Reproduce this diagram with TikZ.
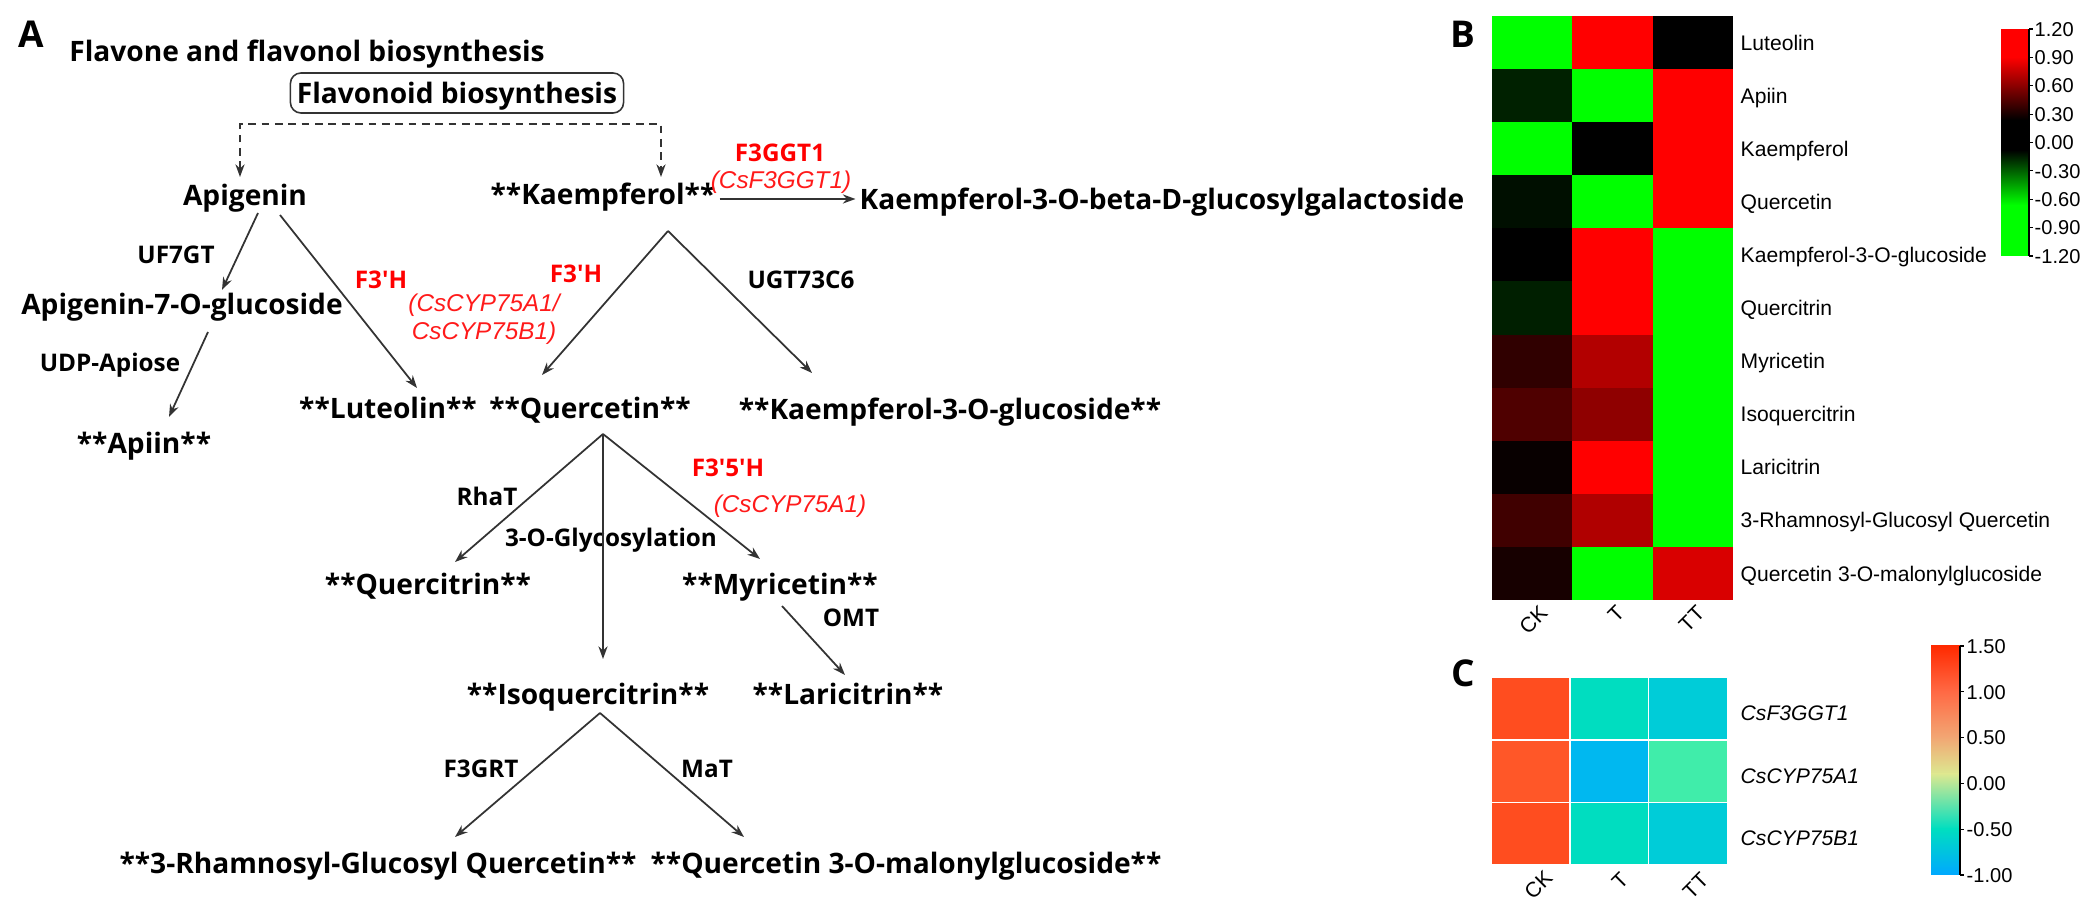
\documentclass[tikz,border=0pt]{standalone}
\usepackage{fontspec}
\setmainfont{Open Sans}
\newfontfamily\arialfont{Liberation Sans}
\usepackage{tikz}
\usetikzlibrary{arrows.meta}
\definecolor{linegray}{HTML}{333333}
\definecolor{genered}{HTML}{FF1A1A}
\definecolor{hcA}{HTML}{FF4D1F}
\definecolor{hcB}{HTML}{00DDC0}
\definecolor{hcC}{HTML}{00CCD8}
\definecolor{hcD}{HTML}{FF5728}
\definecolor{hcE}{HTML}{00B8F0}
\definecolor{hcF}{HTML}{40EDAA}
\tikzset{metab/.style = {font=\bfseries\fontsize{8}{9.6}\selectfont, inner sep=1pt, text height=5.7pt, text depth=0pt}}
\tikzset{enzyme/.style = {font=\bfseries\fontsize{6.9}{8.3}\selectfont, inner sep=1pt, text height=4.9pt, text depth=0pt}}
\tikzset{redenz/.style = {enzyme, text=red}}
\tikzset{gene/.style = {text=genered, font=\arialfont\itshape\fontsize{6.9}{8}\selectfont, align=center, inner sep=1pt}}
\tikzset{panel/.style = {font=\bfseries\fontsize{10.5}{12}\selectfont, inner sep=0pt}}
\tikzset{pathbox/.style = {metab, draw=linegray, line width=0.45pt, rounded corners=3pt, minimum width=3.33cm, minimum height=0.4cm}}
\tikzset{arrow/.style={draw=linegray, line width=0.5pt, -{Stealth[length=3.6pt,width=2.6pt]}}}
\tikzset{dasharrow/.style={arrow, <->, >={Stealth[length=3.6pt,width=2.6pt]}, dash pattern=on 2.2pt off 1.6pt}}
\tikzset{rowlabel/.style={anchor=west, font=\arialfont\fontsize{6}{7}\selectfont, inner sep=0pt, text height=4.3pt, text depth=0pt}}
\tikzset{ticklabel/.style={anchor=west, font=\arialfont\fontsize{5.7}{6.5}\selectfont, inner sep=0pt, text height=4.1pt, text depth=0pt}}
\tikzset{collabel/.style={anchor=east, rotate=45, font=\arialfont\fontsize{6}{7}\selectfont, inner sep=0pt, text height=4.3pt, text depth=0pt}}

\begin{document}
\begin{tikzpicture}[x=0.01cm, y=-0.01cm]
\useasboundingbox (0,0) rectangle (2093,916);
% panel A: pathway
\node[panel] (lblA) at (31,34) {A};
\node[metab] (title) at (307,51) {Flavone and flavonol biosynthesis};
\node[pathbox] (flav) at (457,93) {Flavonoid biosynthesis};

\node[metab] (api) at (245,195) {Apigenin};
\node[metab] (kae) at (603,194) {**Kaempferol**};
\node[metab] (kaegg) at (1162,199) {Kaempferol-3-O-beta-D-glucosylgalactoside};
\node[redenz] (f3ggt) at (780,153) {F3GGT1};
\node[gene] (csf3ggt) at (781,182) {(CsF3GGT1)};

\node[enzyme] (uf7gt) at (176,255) {UF7GT};
\node[redenz] (f3hA) at (381,280) {F3\textquotesingle H};
\node[gene] (cyp) at (484,319) {(CsCYP75A1/\\CsCYP75B1)};
\node[redenz] (f3hB) at (576,274) {F3\textquotesingle H};
\node[enzyme] (ugt) at (801,280) {UGT73C6};

\node[metab] (api7g) at (182,304) {Apigenin-7-O-glucoside};
\node[enzyme] (udp) at (110,363) {UDP-Apiose};
\node[metab] (apiin) at (144,443) {**Apiin**};
\node[metab] (lut) at (388,408) {**Luteolin**};
\node[metab] (que) at (590,408) {**Quercetin**};
\node[metab] (kaeglc) at (950,409) {**Kaempferol-3-O-glucoside**};

\node[enzyme] (rhat) at (487,497) {RhaT};
\node[enzyme] (glyc) at (611,538) {3-O-Glycosylation};
\node[redenz] (f35h) at (728,468) {F3\textquotesingle 5\textquotesingle H};
\node[gene] (cyp75a1) at (790,506) {(CsCYP75A1)};
\node[metab] (querc) at (428,584) {**Quercitrin**};
\node[metab] (myr) at (780,584) {**Myricetin**};
\node[enzyme] (omt) at (851,618) {OMT};
\node[metab] (isoq) at (588,694) {**Isoquercitrin**};
\node[metab] (lar) at (848,694) {**Laricitrin**};
\node[enzyme] (f3grt) at (481,769) {F3GRT};
\node[enzyme] (mat) at (707,769) {MaT};
\node[metab] (rgq) at (378,863) {**3-Rhamnosyl-Glucosyl Quercetin**};
\node[metab] (qmg) at (906,863) {**Quercetin 3-O-malonylglucoside**};

% branch points and arrow tips
\coordinate (dash-mid) at (450,124);
\coordinate (api-in) at (240,177);
\coordinate (kae-in) at (661,177);
\coordinate (api-l) at (258,213);
\coordinate (api-r) at (280,215);
\coordinate (api7g-in) at (222,290);
\coordinate (lut-in) at (417,388);
\coordinate (api7g-out) at (208,332);
\coordinate (apiin-in) at (169,417);
\coordinate (kae-out) at (668,231);
\coordinate (que-in) at (542,375);
\coordinate (kaeglc-in) at (812,373);
\coordinate (que-out) at (603,434);
\coordinate (querc-in) at (455,562);
\coordinate (isoq-in) at (603,659);
\coordinate (myr-in) at (760,559);
\coordinate (myr-out) at (782,606);
\coordinate (lar-in) at (845,675);
\coordinate (isoq-out) at (600,713);
\coordinate (rgq-in) at (455,837);
\coordinate (qmg-in) at (744,837);

\draw[dasharrow] (api-in) |- (dash-mid) -| (kae-in);
\draw[arrow] (kae.east |- kaegg.west) -- (kaegg.west);
\draw[arrow] (api-l) -- (api7g-in);
\draw[arrow] (api-r) -- (lut-in);
\draw[arrow] (api7g-out) -- (apiin-in);
\draw[arrow] (kae-out) -- (que-in);
\draw[arrow] (kae-out) -- (kaeglc-in);
\draw[arrow] (que-out) -- (querc-in);
\draw[arrow] (que-out) -- (isoq-in);
\draw[arrow] (que-out) -- (myr-in);
\draw[arrow] (myr-out) -- (lar-in);
\draw[arrow] (isoq-out) -- (rgq-in);
\draw[arrow] (isoq-out) -- (qmg-in);

% panel B: metabolite heatmap
\node[panel] (lblB) at (1463,34) {B};
\foreach \cck/\ct/\ctt/\cmpd [count=\r] in {
  green/red/black/Luteolin,
  green!13!black/green/red/Apiin,
  green/black/red/Kaempferol,
  green!6!black/green/red/Quercetin,
  black/red/green/Kaempferol-3-O-glucoside,
  green!12!black/red/green/Quercitrin,
  red!19!black/red!70!black/green/Myricetin,
  red!31!black/red!56!black/green/Isoquercitrin,
  red!3!black/red/green/Laricitrin,
  red!25!black/red!69!black/green/3-Rhamnosyl-Glucosyl Quercetin,
  red!9!black/green/red!85!black/Quercetin 3-O-malonylglucoside}
{
  \fill[\cck] (1492,{16+53.1*(\r-1)}) rectangle ++(80.3,53.1);
  \fill[\ct] (1572.3,{16+53.1*(\r-1)}) rectangle ++(80.3,53.1);
  \fill[\ctt] (1652.6,{16+53.1*(\r-1)}) rectangle ++(80.4,53.1);
  \node[rowlabel] (met-\r) at (1740,{42.5+53.1*(\r-1)}) {\cmpd};
}
\node[collabel] (b-ck) at (1544,609) {CK};
\node[collabel] (b-t) at (1621,609) {T};
\node[collabel] (b-tt) at (1701,609) {TT};
% colour key B
\fill[red] (2001,29) rectangle (2029,57);
\shade[top color=red, bottom color=black] (2001,57) rectangle (2029,120);
\fill[black] (2001,120) rectangle (2029,150);
\shade[top color=black, bottom color=green] (2001,150) rectangle (2029,205);
\fill[green] (2001,205) rectangle (2029,256);
\draw[line width=0.3pt] (2029,29) -- (2029,256);
\foreach \v [count=\i from 0] in {1.20,0.90,0.60,0.30,0.00,-0.30,-0.60,-0.90,-1.20}
{
  \draw[line width=0.3pt] (2029,{29+28.375*\i}) -- ++(4,0);
  \node[ticklabel] at (2034,{29+28.375*\i}) {\v};
}

% panel C: gene expression heatmap
\node[panel] (lblC) at (1463,673) {C};
\foreach \cck/\ct/\ctt/\gname [count=\r] in {hcA/hcB/hcC/CsF3GGT1, hcD/hcE/hcF/CsCYP75A1, hcA/hcB/hcC/CsCYP75B1}
{
  \filldraw[fill=\cck, draw=white, line width=0.5pt] (1491,{677+62.7*(\r-1)}) rectangle ++(78.7,62.7);
  \filldraw[fill=\ct, draw=white, line width=0.5pt] (1569.7,{677+62.7*(\r-1)}) rectangle ++(78.7,62.7);
  \filldraw[fill=\ctt, draw=white, line width=0.5pt] (1648.4,{677+62.7*(\r-1)}) rectangle ++(79.6,62.7);
  \node[rowlabel, font=\arialfont\itshape\fontsize{6}{7}\selectfont] (gene-\r) at (1740,{713+62.7*(\r-1)}) {\gname};
}
\node[collabel] (c-ck) at (1549,874) {CK};
\node[collabel] (c-t) at (1625,876) {T};
\node[collabel] (c-tt) at (1705,876) {TT};
% colour key C
\definecolor{keyA}{HTML}{FF2A00}
\definecolor{keyB}{HTML}{FF6A45}
\definecolor{keyC}{HTML}{F2A673}
\definecolor{keyD}{HTML}{DCE890}
\definecolor{keyE}{HTML}{00DEC0}
\definecolor{keyF}{HTML}{00A8FF}
\shade[top color=keyA, bottom color=keyB] (1931,646) rectangle (1960,692);
\shade[top color=keyB, bottom color=keyC] (1931,692) rectangle (1960,737);
\shade[top color=keyC, bottom color=keyD] (1931,737) rectangle (1960,774);
\shade[top color=keyD, bottom color=keyE] (1931,774) rectangle (1960,829);
\shade[top color=keyE, bottom color=keyF] (1931,829) rectangle (1960,875);
\draw[line width=0.3pt] (1960,646) -- (1960,875);
\foreach \v [count=\i from 0] in {1.50,1.00,0.50,0.00,-0.50,-1.00}
{
  \draw[line width=0.3pt] (1960,{646+45.8*\i}) -- ++(4,0);
  \node[ticklabel] at (1966,{646+45.8*\i}) {\v};
}
\end{tikzpicture}
\end{document}
